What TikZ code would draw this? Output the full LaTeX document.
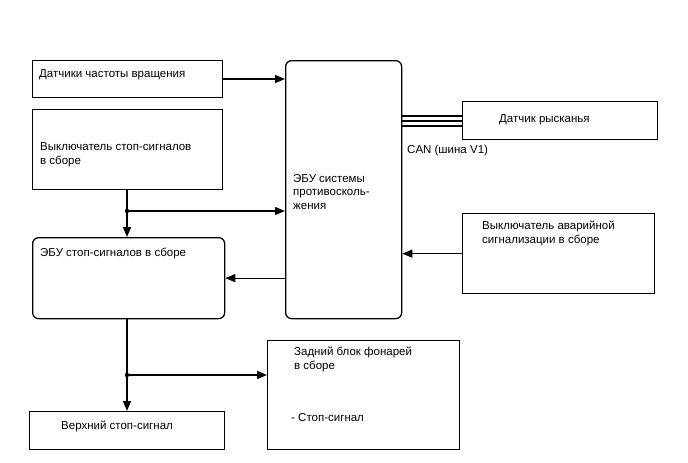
\documentclass[tikz,border=0pt]{standalone}
\usepackage{fontspec}
\setmainfont{Liberation Sans}
\usetikzlibrary{arrows.meta}

\begin{document}
\begin{tikzpicture}[
		x=1pt, y=-1pt,
		arrow/.style={line width=1.3pt, -{Triangle[length=10pt, width=8pt]}},
		wire/.style={line width=1.3pt},
		bus/.style={line width=2pt},
		block/.style={draw, line width=1.3pt, anchor=north west, inner sep=0pt},
		unit/.style={block, rounded corners=6pt},
		txt/.style={anchor=base west, inner sep=0pt, align=left, font=\fontsize{11.5}{13.5}\selectfont},
		dot/.style={circle, fill, inner sep=0pt, minimum size=4.5pt},
	]
	\useasboundingbox[fill=white] (0,0) rectangle (688,463);

	% blocks
	\node[block, minimum width=190, minimum height=37] (speed) at (32,60) {};
	\node[block, minimum width=190, minimum height=80] (brksw) at (32,109) {};
	\node[unit, minimum width=192, minimum height=81] (stopecu) at (32,237) {};
	\node[unit, minimum width=116, minimum height=258] (abs) at (285,60) {};
	\node[block, minimum width=195, minimum height=38] (yaw) at (462,101) {};
	\node[block, minimum width=192, minimum height=80] (hazard) at (462,213) {};
	\node[block, minimum width=192, minimum height=109] (rear) at (267,340) {};
	\node[block, minimum width=195, minimum height=38] (upper) at (29,411) {};

	% texts (base = last line)
	\node[txt] (speedtxt) at (39,77) {Датчики частоты вращения};
	\node[txt] (brkswtxt) at (40,164) {Выключатель стоп-сигналов\\в сборе};
	\node[txt] (stopecutxt) at (40,256) {ЭБУ стоп-сигналов в сборе};
	\node[txt] (abstxt) at (293,209) {ЭБУ системы\\противосколь-\\жения};
	\node[txt] (yawtxt) at (499,122) {Датчик рысканья};
	\node[txt] (cantxt) at (407,153) {CAN (шина V1)};
	\node[txt] (hazardtxt) at (482,243) {Выключатель аварийной\\сигнализации в сборе};
	\node[txt] (reartxt) at (294,369) {Задний блок фонарей\\в сборе};
	\node[txt] (lamptxt) at (291,421) {- Стоп-сигнал};
	\node[txt] (uppertxt) at (61,429) {Верхний стоп-сигнал};

	% junctions
	\node[dot] (j1) at (127,211) {};
	\node[dot] (j2) at (127,375) {};

	% connectors
	\draw[arrow] (speed.east |- 0,79) -- (abs.west |- 0,79);
	\draw[wire] (j1 |- brksw.south) -- (j1.center);
	\draw[arrow] (j1.center) -- (abs.west |- j1);
	\draw[arrow] (j1.center) -- (j1 |- stopecu.north);
	\draw[arrow] (abs.west |- stopecu) -- (stopecu.east);
	\draw[arrow] (hazard.west) -- (abs.east |- hazard);
	\draw[wire] (j2 |- stopecu.south) -- (j2.center);
	\draw[arrow] (j2.center) -- (rear.west |- j2);
	\draw[arrow] (j2.center) -- (j2 |- upper.north);
	\foreach \dy in {-5,0,5}
		\draw[bus] ([yshift=\dy]abs.east |- yaw) -- ([yshift=\dy]yaw.west);
\end{tikzpicture}
\end{document}
